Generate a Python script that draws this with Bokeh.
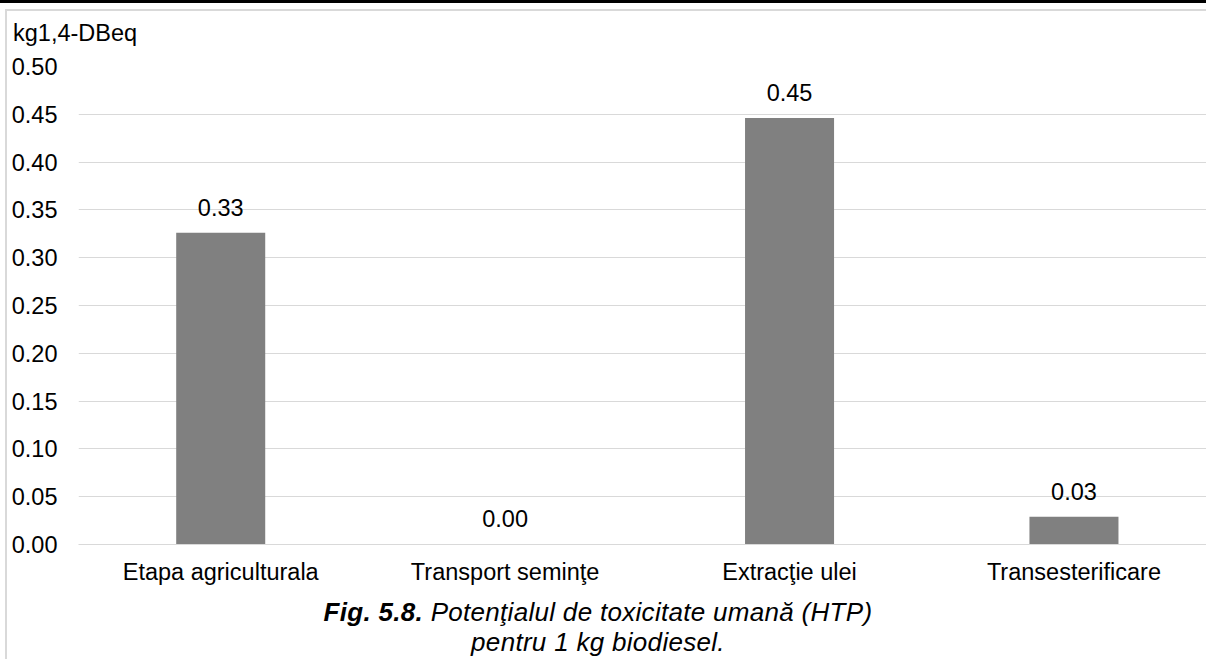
from bokeh.plotting import figure
from bokeh.models import (ColumnDataSource, LabelSet, Range1d, FixedTicker,
                          NumeralTickFormatter, Div)
from bokeh.layouts import column
from bokeh.core.properties import value
from bokeh.embed import file_html
from bokeh.resources import INLINE
from jinja2 import Template

# ---- data ----
categories = ["Etapa agriculturala", "Transport seminţe", "Extracţie ulei", "Transesterificare"]
values = [0.326, 0.0005, 0.446, 0.029]
y_ticks = [0.00, 0.05, 0.10, 0.15, 0.20, 0.25, 0.30, 0.35, 0.40, 0.45, 0.50]
y_unit = "kg1,4-DBeq"
caption_bold = "Fig. 5.8."
caption_line1 = "Potenţialul de toxicitate umană (HTP)"
caption_line2 = "pentru 1 kg biodiesel."

FONT = "Liberation Sans"
FS = "23.5px"
GRID = "#d9d9d9"

xs = list(range(len(categories)))
src = ColumnDataSource(dict(x=xs, top=values, lbl=["%.2f" % v for v in values]))

p = figure(width=1199, height=546, output_backend="svg", toolbar_location=None,
           x_range=Range1d(-0.5, 3.466), y_range=Range1d(0, 0.5),
           min_border_left=71, min_border_right=0, min_border_top=15, min_border_bottom=53,
           margin=(0, 0, 0, 7))
p.outline_line_color = None
p.background_fill_color = "white"
p.border_fill_color = "white"

p.vbar(x="x", top="top", width=0.313, source=src, fill_color="#808080", line_color=None)

p.add_layout(LabelSet(x="x", y="top", text="lbl", source=src, y_offset=17,
                      text_align="center", text_baseline="alphabetic",
                      text_font=value(FONT), text_font_size=value(FS), text_color="#000000"))

# axes
p.xaxis.ticker = FixedTicker(ticks=xs)
p.xaxis.major_label_overrides = {i: c for i, c in zip(xs, categories)}
p.xaxis.axis_line_color = GRID
p.xaxis.axis_line_width = 1
p.xaxis.major_tick_line_color = None
p.xaxis.minor_tick_line_color = None
p.xaxis.major_tick_out = 0
p.xaxis.major_tick_in = 0
p.xaxis.major_label_standoff = 14
p.xaxis.major_label_text_font = FONT
p.xaxis.major_label_text_font_size = FS
p.xaxis.major_label_text_color = "#000000"

p.yaxis.ticker = FixedTicker(ticks=y_ticks)
p.yaxis.formatter = NumeralTickFormatter(format="0.00")
p.yaxis.axis_line_color = None
p.yaxis.major_tick_line_color = None
p.yaxis.minor_tick_line_color = None
p.yaxis.major_tick_out = 0
p.yaxis.major_tick_in = 0
p.yaxis.major_label_standoff = 21
p.yaxis.major_label_text_font = FONT
p.yaxis.major_label_text_font_size = FS
p.yaxis.major_label_text_color = "#000000"

p.xgrid.grid_line_color = None
p.ygrid.grid_line_color = GRID
p.ygrid.grid_line_width = 1

unit_html = (
    "<div style=\"font-family:'Liberation Sans',Arial,sans-serif;font-size:23.5px;"
    "line-height:24px;color:#000;margin:0;padding:10px 0 0 6px;white-space:nowrap;\">%s</div>" % y_unit
)
unit_div = Div(text=unit_html, width=1199, height=40, margin=(0, 0, 0, 7))

caption_html = (
    "<div style=\"font-family:'Liberation Sans',Arial,sans-serif;font-size:26px;"
    "letter-spacing:0.3px;font-style:italic;line-height:30px;text-align:center;color:#000;"
    "margin:0;padding:0;width:1182px;white-space:nowrap;\">"
    "<b>%s</b> %s<br>%s</div>" % (caption_bold, caption_line1, caption_line2)
)
caption = Div(text=caption_html, width=1182, height=62, margin=(0, 0, 0, 7))

black_bar = Div(text="", width=1206, height=3, margin=(0, 0, 6, 0),
                styles={"background-color": "#000000"})
grey_top = Div(text="", width=1201, height=2, margin=(0, 0, 0, 5),
               styles={"background-color": GRID})

page = column(black_bar, grey_top, unit_div, p, caption, spacing=0, margin=0,
              styles={"background": "linear-gradient(%s, %s) 5px 9px / 2px 650px no-repeat" % (GRID, GRID)})

template = Template("""{% extends base %}
{% block preamble %}<style>html, body { margin: 0; padding: 0; overflow: hidden; }</style>{% endblock %}
""")

open("out.html", "w").write(file_html(page, INLINE, template=template))
